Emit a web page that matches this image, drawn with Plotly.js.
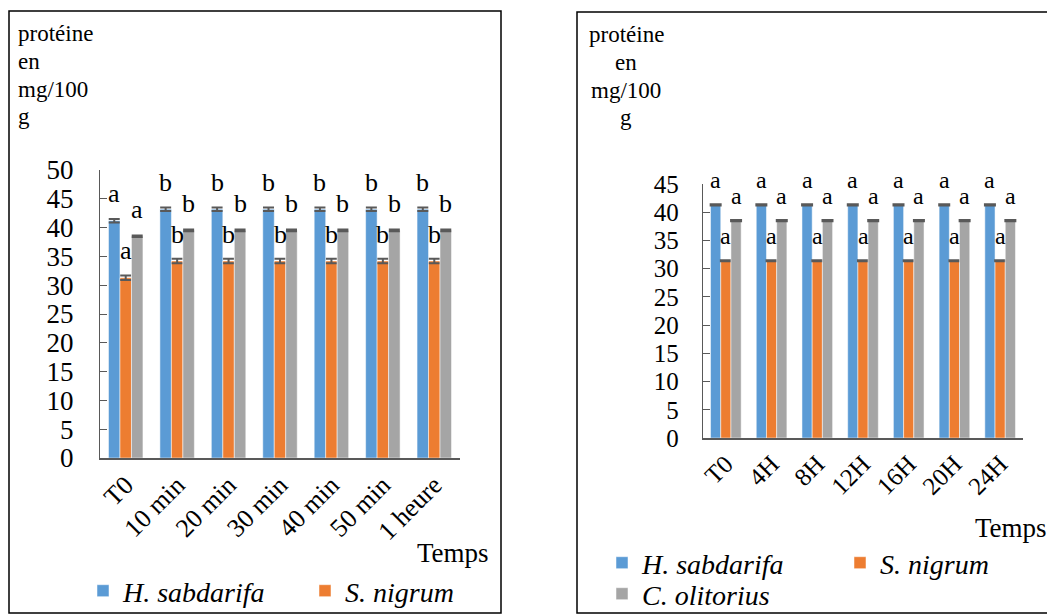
<!DOCTYPE html>
<html><head><meta charset="utf-8">
<script src="https://cdn.plot.ly/plotly-3.0.1.min.js"></script>
<style>html,body{margin:0;padding:0;background:#fff}#chart{width:1047px;height:614px}</style>
</head><body><div id="chart"></div>
<script>
// ---- Left chart data ----
const catsA = ['T0','10 min','20 min','30 min','40 min','50 min','1 heure'];
const hsA = [41.2,43.2,43.2,43.2,43.2,43.2,43.2];
const snA = [31.3,34.2,34.2,34.2,34.2,34.2,34.2];
const coA = [38.5,39.5,39.5,39.5,39.5,39.5,39.5];
const hsAErr = [0.3,0.3,0.3,0.3,0.3,0.3,0.3];
const snAErr = [0.4,0.4,0.4,0.4,0.4,0.4,0.4];
const coAErr = [0.15,0.15,0.15,0.15,0.15,0.15,0.15];
const hsALet = ['a','b','b','b','b','b','b'];
const snALet = ['a','b','b','b','b','b','b'];
const coALet = ['a','b','b','b','b','b','b'];
// ---- Right chart data ----
const catsB = ['T0','4H','8H','12H','16H','20H','24H'];
const hsB = [41.3,41.3,41.3,41.3,41.3,41.3,41.3];
const snB = [31.4,31.4,31.4,31.4,31.4,31.4,31.4];
const coB = [38.5,38.5,38.5,38.5,38.5,38.5,38.5];
const hsBErr = [0.1,0.1,0.1,0.1,0.1,0.1,0.1];
const snBErr = [0.1,0.1,0.1,0.1,0.1,0.1,0.1];
const coBErr = [0.1,0.1,0.1,0.1,0.1,0.1,0.1];
const hsBLet = ['a','a','a','a','a','a','a'];
const snBLet = ['a','a','a','a','a','a','a'];
const coBLet = ['a','a','a','a','a','a','a'];
const names = ['H. sabdarifa','S. nigrum','C. olitorius'];
const colors = ['#5B9BD5','#ED7D31','#A5A5A5'];
const yTitleLines = ['protéine','en','mg/100','g'];
const xTitle = 'Temps';

const W = 1047, H = 614;
const px = x => x / W, py = y => 1 - y / H;
const FONT = 'Liberation Serif';
const errColor = '#595959';

function barTrace(cats, vals, errs, i, xa, ya, legend, show, ew) {
  return {
    type: 'bar', x: cats, y: vals, name: names[i], xaxis: xa, yaxis: ya,
    marker: {color: colors[i], line: {color: '#ffffff', width: 0.5}},
    error_y: {type: 'data', array: errs, visible: true, color: errColor, thickness: 2, width: ew},
    legend: legend, showlegend: show, offsetgroup: xa + i, hoverinfo: 'skip', cliponaxis: false
  };
}

const data = [
  barTrace(catsA, hsA, hsAErr, 0, 'x', 'y', 'legend', true, 5.5),
  barTrace(catsA, snA, snAErr, 1, 'x', 'y', 'legend', true, 5.5),
  barTrace(catsA, coA, coAErr, 2, 'x', 'y', 'legend', false, 5.5),
  barTrace(catsB, hsB, hsBErr, 0, 'x2', 'y2', 'legend2', true, 6),
  barTrace(catsB, snB, snBErr, 1, 'x2', 'y2', 'legend2', true, 6),
  barTrace(catsB, coB, coBErr, 2, 'x2', 'y2', 'legend3', true, 6)
];

const annotations = [];
function letters(series, lets, xa, ya, bw, fs, ys) {
  series.forEach((vals, s) => {
    vals.forEach((v, i) => {
      annotations.push({x: i, y: v, xref: xa, yref: ya, text: lets[s][i], showarrow: false,
        xshift: (s - 1) * bw, yshift: ys, font: {family: FONT, size: fs, color: '#000'}});
    });
  });
}
letters([hsA, snA, coA], [hsALet, snALet, coALet], 'x', 'y', 11.5, 26, 27);
letters([hsB, snB, coB], [hsBLet, snBLet, coBLet], 'x2', 'y2', 10.2, 24, 25);

// axis titles (one annotation per line to match the line spacing)
const titleY = [33, 61, 89, 117];
yTitleLines.forEach((t, k) => {
  annotations.push({xref: 'paper', yref: 'paper', x: px(16), y: py(titleY[k]), xanchor: 'left',
    yanchor: 'middle', showarrow: false, text: t, font: {family: FONT, size: 23, color: '#000'}});
  annotations.push({xref: 'paper', yref: 'paper', x: px(626), y: py(titleY[k] + 1), xanchor: 'center',
    yanchor: 'middle', showarrow: false, text: t, font: {family: FONT, size: 23, color: '#000'}});
});
annotations.push({xref: 'paper', yref: 'paper', x: px(415), y: py(553), xanchor: 'left', yanchor: 'middle',
  showarrow: false, text: xTitle, font: {family: FONT, size: 27, color: '#000'}});
annotations.push({xref: 'paper', yref: 'paper', x: px(973), y: py(528), xanchor: 'left', yanchor: 'middle',
  showarrow: false, text: xTitle, font: {family: FONT, size: 27, color: '#000'}});

function yax(dom, anchor, range, fs, standoff) {
  return {domain: dom, anchor: anchor, range: range, dtick: 5, tick0: 0, ticks: 'inside', ticklen: 7,
    tickcolor: '#595959', showline: true, linecolor: '#595959', linewidth: 1.2, showgrid: false,
    zeroline: false, tickfont: {family: FONT, size: fs, color: '#000'}, ticklabelstandoff: standoff,
    fixedrange: true};
}
function xax(dom, anchor, fs) {
  return {domain: dom, anchor: anchor, type: 'category', tickangle: -45, ticks: '', showline: true,
    linecolor: '#595959', linewidth: 1.5, showgrid: false, tickfont: {family: FONT, size: fs, color: '#000'},
    fixedrange: true};
}

const legFont = {family: FONT, size: 28, color: '#000', style: 'italic'};
const layout = {
  width: W, height: H, margin: {l: 0, r: 0, t: 0, b: 0, autoexpand: false},
  paper_bgcolor: '#fff', plot_bgcolor: 'rgba(0,0,0,0)',
  font: {family: FONT, color: '#000'},
  barmode: 'group', bargap: 0.33, bargroupgap: 0,
  xaxis: xax([px(100), px(460)], 'y', 26),
  yaxis: yax([py(458), py(170)], 'x', [0, 50], 27, 20),
  xaxis2: xax([px(703), px(1023)], 'y2', 25),
  yaxis2: yax([py(438), py(184)], 'x2', [0, 45], 25, 18),
  legend: {orientation: 'h', x: px(83), y: py(591), xanchor: 'left', yanchor: 'middle', font: legFont,
    entrywidth: 177, bgcolor: 'rgba(0,0,0,0)'},
  legend2: {orientation: 'h', x: px(602), y: py(563), xanchor: 'left', yanchor: 'middle', font: legFont,
    entrywidth: 193, bgcolor: 'rgba(0,0,0,0)'},
  legend3: {orientation: 'h', x: px(602), y: py(594), xanchor: 'left', yanchor: 'middle', font: legFont,
    bgcolor: 'rgba(0,0,0,0)'},
  annotations: annotations,
  shapes: [
    {type: 'rect', xref: 'paper', yref: 'paper', x0: px(9), x1: px(501), y0: py(11), y1: py(613),
      line: {color: '#000', width: 1.5}},
    {type: 'rect', xref: 'paper', yref: 'paper', x0: px(577), x1: px(1060), y0: py(12), y1: py(613),
      line: {color: '#000', width: 1.5}}
  ]
};
Plotly.newPlot('chart', data, layout, {displayModeBar: false, staticPlot: true});
</script></body></html>
